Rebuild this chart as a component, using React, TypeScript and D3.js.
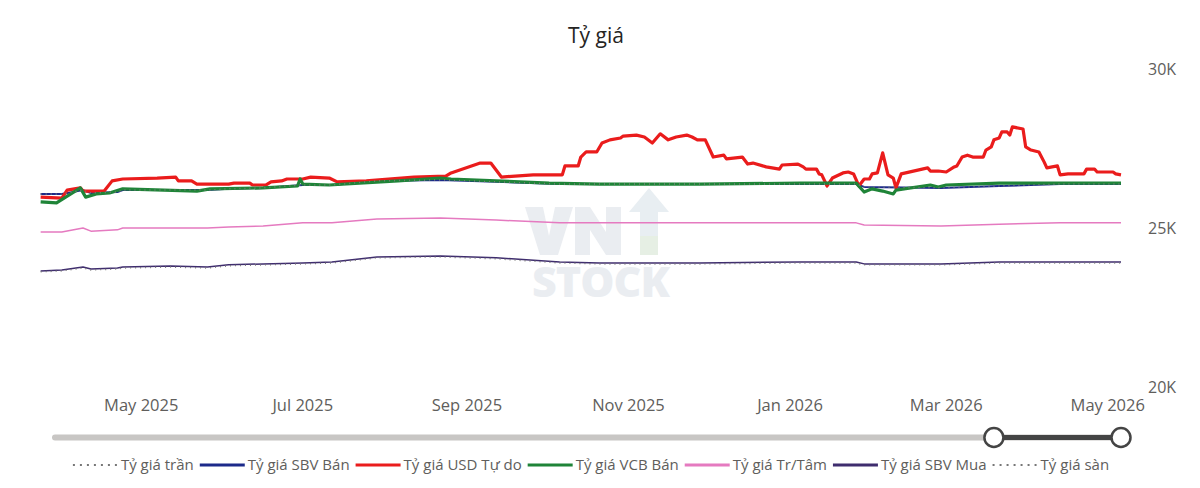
import React, { useEffect, useRef } from "react";
import * as d3 from "d3";

const width = 1200;
const height = 488;

// dates shared by the slow moving SBV series
const smoothDates = [
  "2025-03-24", "2025-04-01", "2025-04-09", "2025-04-12", "2025-04-22", "2025-04-24",
  "2025-05-12", "2025-05-26", "2025-06-03", "2025-06-16", "2025-07-01", "2025-07-12",
  "2025-07-29", "2025-08-22", "2025-09-12", "2025-10-06", "2025-10-21", "2025-11-28",
  "2026-01-05", "2026-01-26", "2026-01-29", "2026-02-27", "2026-03-21", "2026-04-13", "2026-05-06",
];
const centralRate = [
  24840, 24840, 24970, 24870, 24910, 24970, 24970, 24970, 25000, 25030, 25130, 25130,
  25250, 25280, 25220, 25130, 25130, 25130, 25130, 25130, 25060, 25030, 25090, 25130, 25130,
];
const sbvSell = [
  26040, 26040, 26160, 26070, 26100, 26160, 26160, 26160, 26200, 26230, 26320, 26320,
  26450, 26480, 26420, 26350, 26350, 26350, 26350, 26350, 26260, 26230, 26290, 26350, 26350,
];
const ceilingRate = [
  26040, 26040, 26160, 26070, 26100, 26160, 26160, 26160, 26200, 26230, 26320, 26320,
  26450, 26480, 26420, 26350, 26350, 26350, 26350, 26350, 26260, 26230, 26290, 26350, 26350,
];
const sbvBuy = [
  23620, 23650, 23740, 23680, 23710, 23740, 23770, 23740, 23810, 23840, 23870, 23900,
  24060, 24090, 24030, 23900, 23870, 23870, 23900, 23900, 23840, 23840, 23900, 23900, 23900,
];
const floorRate = [
  23590, 23620, 23710, 23650, 23680, 23710, 23740, 23710, 23780, 23810, 23840, 23870,
  24030, 24060, 24000, 23870, 23840, 23840, 23870, 23870, 23810, 23810, 23870, 23870, 23870,
];

const freeDates = [
  "2025-03-24", "2025-04-01", "2025-04-03", "2025-04-08", "2025-04-09", "2025-04-17", "2025-04-20",
  "2025-04-24", "2025-05-07", "2025-05-14", "2025-05-15", "2025-05-20", "2025-05-22", "2025-06-03",
  "2025-06-05", "2025-06-11", "2025-06-12", "2025-06-17", "2025-06-19", "2025-06-23", "2025-06-25",
  "2025-07-01", "2025-07-04", "2025-07-11", "2025-07-14", "2025-07-25", "2025-08-12", "2025-08-24",
  "2025-08-26", "2025-09-06", "2025-09-10", "2025-09-14", "2025-09-26", "2025-10-07", "2025-10-08",
  "2025-10-13", "2025-10-14", "2025-10-16", "2025-10-20", "2025-10-22", "2025-10-25", "2025-10-29",
  "2025-10-30", "2025-11-04", "2025-11-07", "2025-11-10", "2025-11-13", "2025-11-16", "2025-11-19",
  "2025-11-23", "2025-11-25", "2025-11-27", "2025-11-30", "2025-12-03", "2025-12-07", "2025-12-08",
  "2025-12-14", "2025-12-16", "2025-12-18", "2025-12-23", "2025-12-28", "2025-12-29", "2026-01-04",
  "2026-01-06", "2026-01-07", "2026-01-11", "2026-01-12", "2026-01-13", "2026-01-15", "2026-01-17",
  "2026-01-21", "2026-01-23", "2026-01-25", "2026-01-27", "2026-01-29", "2026-01-31", "2026-02-01",
  "2026-02-03", "2026-02-05", "2026-02-07", "2026-02-09", "2026-02-10", "2026-02-12", "2026-02-22",
  "2026-02-23", "2026-02-26", "2026-03-01", "2026-03-04", "2026-03-05", "2026-03-07", "2026-03-09",
  "2026-03-11", "2026-03-15", "2026-03-16", "2026-03-18", "2026-03-19", "2026-03-21", "2026-03-22",
  "2026-03-24", "2026-03-25", "2026-03-26", "2026-03-30", "2026-03-31", "2026-04-02", "2026-04-05",
  "2026-04-07", "2026-04-08", "2026-04-12", "2026-04-13", "2026-04-16", "2026-04-22", "2026-04-23",
  "2026-04-26", "2026-04-27", "2026-05-03", "2026-05-04", "2026-05-06",
];
const freeRate = [
  25940, 25910, 26160, 26230, 26130, 26130, 26450,
  26510, 26540, 26570, 26450, 26450, 26350, 26350,
  26380, 26380, 26320, 26320, 26420, 26450, 26510,
  26510, 26570, 26540, 26420, 26450, 26570, 26600,
  26700, 27010, 27010, 26570, 26640, 26640, 26920,
  26920, 27200, 27360, 27360, 27640, 27740, 27800,
  27860, 27890, 27830, 27640, 27930, 27740, 27830,
  27890, 27830, 27740, 27740, 27200, 27260, 27140,
  27200, 26980, 27010, 26890, 26820, 26950, 26980,
  26890, 26820, 26820, 26670, 26640, 26290, 26540,
  26700, 26730, 26670, 26290, 26510, 26510, 26670,
  26700, 27330, 26640, 26540, 26230, 26670, 26860,
  26760, 26760, 26730, 26890, 26920, 27200, 27260,
  27200, 27200, 27420, 27520, 27740, 27800, 27990,
  27990, 27890, 28150, 28080, 27520, 27420, 27360,
  27040, 26860, 26920, 26640, 26670, 26670, 26820,
  26820, 26730, 26730, 26670, 26640,
];

const vcbDates = [
  "2025-03-24", "2025-03-30", "2025-04-08", "2025-04-10", "2025-04-14", "2025-04-19", "2025-04-24",
  "2025-05-22", "2025-05-27", "2025-06-16", "2025-06-29", "2025-06-30", "2025-07-01", "2025-07-11",
  "2025-08-06", "2025-08-22", "2025-08-26", "2025-09-12", "2025-10-02", "2025-10-21", "2025-11-28",
  "2026-01-05", "2026-01-26", "2026-01-29", "2026-02-01", "2026-02-05", "2026-02-09", "2026-02-10",
  "2026-02-23", "2026-02-26", "2026-03-01", "2026-03-21", "2026-05-06",
];
const vcbSell = [
  25790, 25760, 26230, 25940, 26040, 26070, 26200,
  26130, 26200, 26230, 26290, 26510, 26350, 26320,
  26450, 26540, 26510, 26450, 26380, 26350, 26350,
  26380, 26380, 26100, 26200, 26130, 26040, 26160,
  26320, 26260, 26320, 26380, 26380,
];

const yTicks = [20000, 25000, 30000];
const xTickDates = ["2025-05-01", "2025-07-01", "2025-09-01", "2025-11-01", "2026-01-01", "2026-03-01", "2026-05-01"];
const sliderRange = ["2026-03-19", "2026-05-06"];

const parseDate = d3.timeParse("%Y-%m-%d");

type Series = {
  name: string;
  dates: string[];
  values: number[];
  color: string;
  width: number;
  dash?: string;
};

const series: Series[] = [
  { name: "Tỷ giá SBV Bán", dates: smoothDates, values: sbvSell, color: "#1c2a8a", width: 2 },
  { name: "Tỷ giá USD Tự do", dates: freeDates, values: freeRate, color: "#ea1c1c", width: 3.2 },
  { name: "Tỷ giá VCB Bán", dates: vcbDates, values: vcbSell, color: "#1f8438", width: 3.2 },
  { name: "Tỷ giá Tr/Tâm", dates: smoothDates, values: centralRate, color: "#e57ac0", width: 1.5 },
  { name: "Tỷ giá SBV Mua", dates: smoothDates, values: sbvBuy, color: "#3f2d6e", width: 1.5 },
  { name: "Tỷ giá trần", dates: smoothDates, values: ceilingRate, color: "#7a7a7a", width: 1.5, dash: "1,4" },
  { name: "Tỷ giá sàn", dates: smoothDates, values: floorRate, color: "#7a7a7a", width: 1.5, dash: "1,4" },
];

const legendOrder = [
  "Tỷ giá trần", "Tỷ giá SBV Bán", "Tỷ giá USD Tự do", "Tỷ giá VCB Bán",
  "Tỷ giá Tr/Tâm", "Tỷ giá SBV Mua", "Tỷ giá sàn",
];

const FONT = "'Open Sans', 'Noto Sans', sans-serif";

export default function App() {
  const ref = useRef<SVGSVGElement>(null);

  useEffect(() => {
    const svg = d3.select(ref.current);
    svg.selectAll("*").remove();

    const x = d3
      .scaleTime()
      .domain([parseDate("2025-03-23")!, parseDate("2026-05-06")!])
      .range([38, 1121]);
    const y = d3.scaleLinear().domain([20000, 30000]).range([386, 68]);

    // title
    svg.append("text")
      .attr("x", 596).attr("y", 43)
      .attr("text-anchor", "middle")
      .attr("font-family", FONT).attr("font-size", 21)
      .attr("fill", "#252423")
      .text("Tỷ giá");

    // watermark logo (VN letters + arrow as shapes, STOCK as text)
    const wm = svg.append("g").attr("fill", "#eaedf1");
    wm.append("path").attr("d", "M525,207 L543,207 L549,236 L555,207 L573,207 L558,255 L540,255 Z");
    wm.append("path").attr("d", "M575,207 L590,207 L606,232 L606,207 L621,207 L621,255 L606,255 L590,230 L590,255 L575,255 Z");
    wm.append("path")
      .attr("d", "M649,188 L669,212 L658,212 L658,255 L640,255 L640,212 L629,212 Z")
      .attr("fill", "#e8eef2");
    wm.append("rect").attr("x", 640).attr("y", 236).attr("width", 18).attr("height", 19).attr("fill", "#e6efe4");
    wm.append("text")
      .attr("x", 532).attr("y", 297)
      .attr("font-family", FONT).attr("font-weight", 800)
      .attr("font-size", 43).attr("letter-spacing", -1)
      .text("STOCK");

    // y axis labels (right)
    svg.append("g")
      .selectAll("text")
      .data(yTicks)
      .join("text")
      .attr("x", 1148)
      .attr("y", (d) => y(d) + 7)
      .attr("font-family", FONT).attr("font-size", 16)
      .attr("fill", "#605e5c")
      .text((d) => `${d / 1000}K`);

    // x axis labels
    const fmt = d3.timeFormat("%b %Y");
    svg.append("g")
      .selectAll("text")
      .data(xTickDates.map((d) => parseDate(d)!))
      .join("text")
      .attr("x", (d) => x(d))
      .attr("y", 411)
      .attr("text-anchor", "middle")
      .attr("font-family", FONT).attr("font-size", 16.5)
      .attr("fill", "#605e5c")
      .text((d) => fmt(d));

    // lines
    const line = d3
      .line<[Date, number]>()
      .x((d) => x(d[0]))
      .y((d) => y(d[1]));

    series.forEach((s) => {
      const pts: [Date, number][] = s.dates.map((d, i) => [parseDate(d)!, s.values[i]]);
      svg.append("path")
        .datum(pts)
        .attr("d", line)
        .attr("fill", "none")
        .attr("stroke", s.color)
        .attr("stroke-width", s.width)
        .attr("stroke-linejoin", "round")
        .attr("stroke-dasharray", s.dash ?? null);
    });

    // range slider
    const sy = 437.5;
    const [a, b] = sliderRange.map((d) => x(parseDate(d)!));
    svg.append("line")
      .attr("x1", 55).attr("x2", 1121).attr("y1", sy).attr("y2", sy)
      .attr("stroke", "#c8c6c4").attr("stroke-width", 6).attr("stroke-linecap", "round");
    svg.append("line")
      .attr("x1", a).attr("x2", b).attr("y1", sy).attr("y2", sy)
      .attr("stroke", "#444").attr("stroke-width", 5);
    [a, b].forEach((cx) => {
      svg.append("circle")
        .attr("cx", cx).attr("cy", sy).attr("r", 9.5)
        .attr("fill", "#fff").attr("stroke", "#444").attr("stroke-width", 2.5);
    });

    // legend
    const lg = svg.append("g").attr("font-family", FONT).attr("font-size", 15);
    let cx = 0;
    const items = legendOrder.map((name) => series.find((s) => s.name === name)!);
    items.forEach((s) => {
      const g = lg.append("g").attr("transform", `translate(${cx},0)`);
      g.append("line")
        .attr("x1", 0).attr("x2", 45).attr("y1", 0).attr("y2", 0)
        .attr("stroke", s.dash ? "#777" : s.color)
        .attr("stroke-width", s.dash ? 2 : 3)
        .attr("stroke-dasharray", s.dash ? "2,5" : null);
      const t = g.append("text")
        .attr("x", 48).attr("y", 5)
        .attr("fill", "#605e5c")
        .text(s.name);
      const w = (t.node() as SVGTextElement).getComputedTextLength();
      cx += 48 + w + 6;
    });
    const total = cx - 6;
    lg.attr("transform", `translate(${591 - total / 2},465)`);
  }, []);

  return (
    <svg
      ref={ref}
      width={width}
      height={height}
      style={{ position: "absolute", left: 0, top: 0, background: "#fff" }}
    />
  );
}
